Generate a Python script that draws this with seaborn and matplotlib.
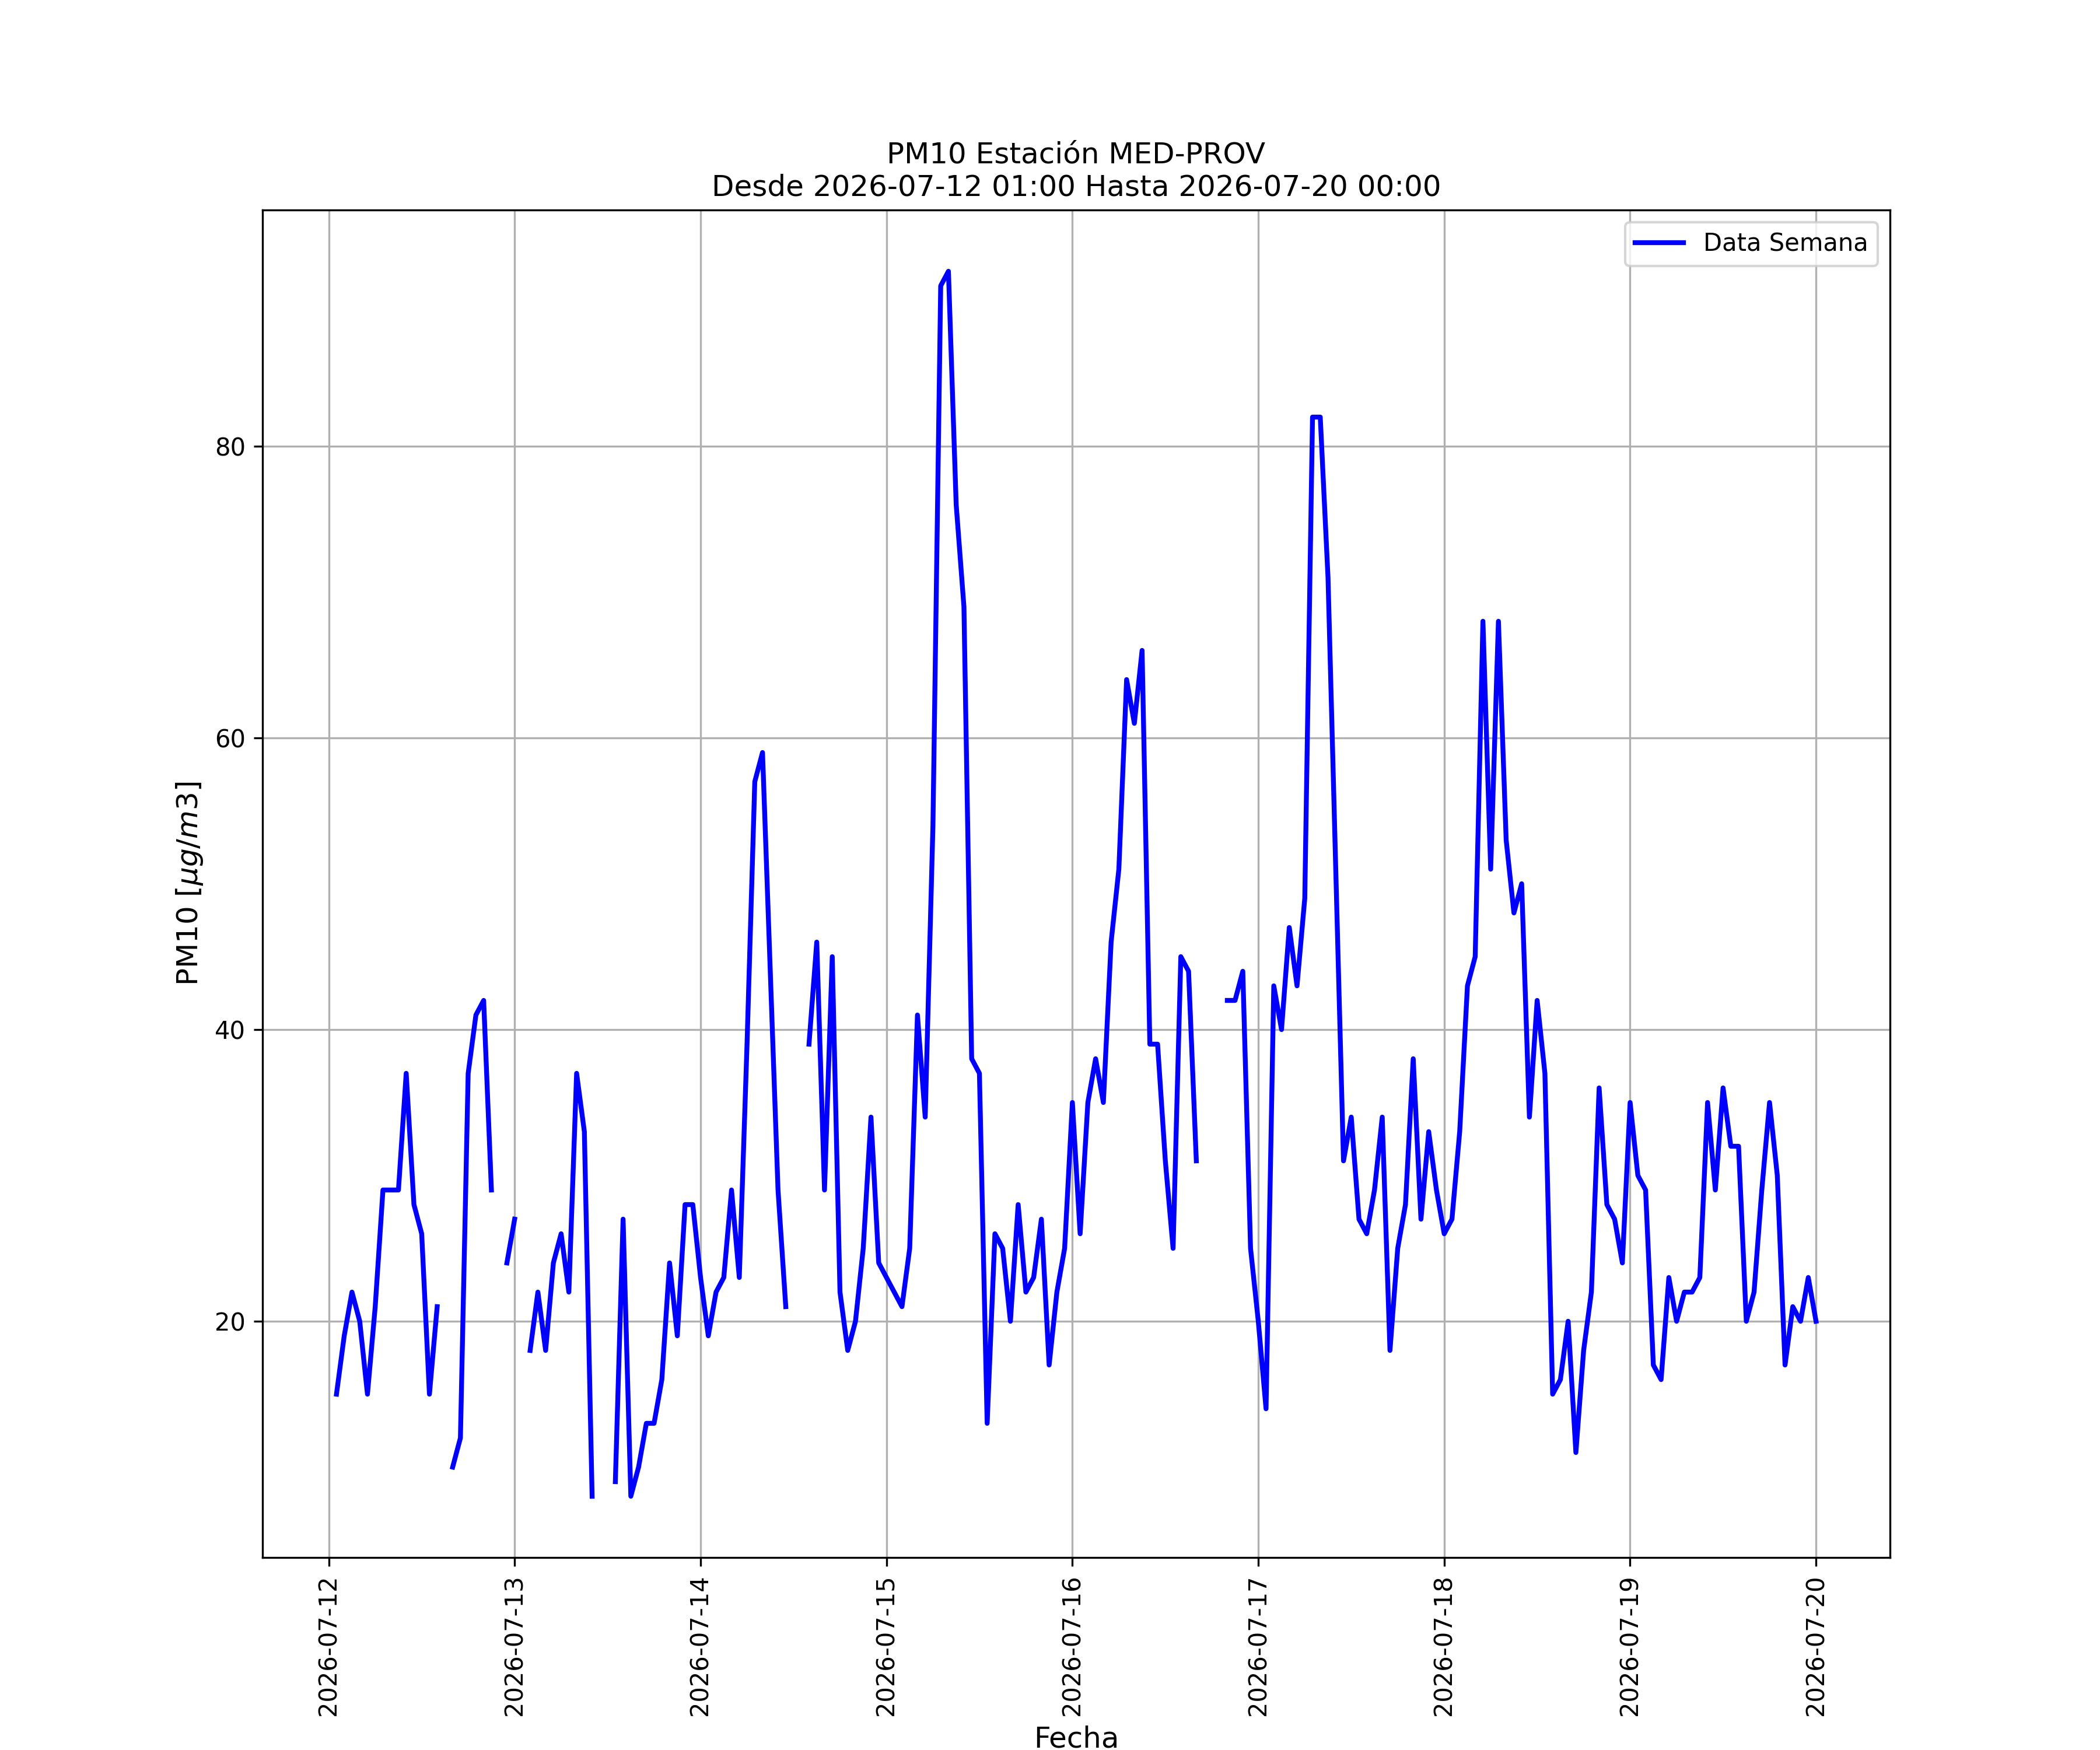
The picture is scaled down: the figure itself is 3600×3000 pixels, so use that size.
import numpy as np
import pandas as pd
import matplotlib
matplotlib.use("Agg")
import matplotlib.pyplot as plt
import matplotlib.dates as mdates
import seaborn as sns

# ---- data (hourly PM10, NaN = missing) ----
start = "2026-07-12 01:00"
end = "2026-07-20 00:00"
nan = np.nan
day1 = [15, 19, 22, 20, 15, 21, 29, 29, 29, 37, 28, 26, 15, 21, nan, 10, 12, 37,
        41, 42, 29, nan, 24, 27]
day2 = [nan, 18, 22, 18, 24, 26, 22, 37, 33, 8, nan, nan, 9, 27, 8, 10, 13, 13,
        16, 24, 19, 28, 28, 23]
day3 = [19, 22, 23, 29, 23, 39, 57, 59, 44, 29, 21, nan, nan, 39, 46, 29, 45, 22,
        18, 20, 25, 34, 24, 23]
day4 = [22, 21, 25, 41, 34, 54, 91, 92, 76, 69, 38, 37, 13, 26, 25, 20, 28, 22,
        23, 27, 17, 22, 25, 35]
day5 = [26, 35, 38, 35, 46, 51, 64, 61, 66, 39, 39, 31, 25, 45, 44, 31, nan, nan,
        nan, 42, 42, 44, 25, 20]
day6 = [14, 43, 40, 47, 43, 49, 82, 82, 71, 51, 31, 34, 27, 26, 29, 34, 18, 25,
        28, 38, 27, 33, 29, 26]
day7 = [27, 33, 43, 45, 68, 51, 68, 53, 48, 50, 34, 42, 37, 15, 16, 20, 11, 18,
        22, 36, 28, 27, 24, 35]
day8 = [30, 29, 17, 16, 23, 20, 22, 22, 23, 35, 29, 36, 32, 32, 20, 22, 29, 35,
        30, 17, 21, 20, 23, 20]
pm10 = day1 + day2 + day3 + day4 + day5 + day6 + day7 + day8

title_text = "PM10 Estación MED-PROV\nDesde 2026-07-12 01:00 Hasta 2026-07-20 00:00"
legend_label = "Data Semana"
x_label = "Fecha"
y_label = r"PM10 [$\mu g/m3$]"

fechas = pd.date_range(start, end, freq="h")
df = pd.DataFrame({"fecha": fechas, "pm10": pm10})
df["seg"] = df["pm10"].isna().cumsum()
df = df.dropna(subset=["pm10"])

# ---- figure ----
fig = plt.figure(figsize=(12, 10), dpi=300)
ax = fig.add_subplot(111)
fig.subplots_adjust(left=0.125, right=0.9, top=0.88, bottom=0.11)

sns.lineplot(data=df, x="fecha", y="pm10", units="seg", estimator=None,
             color="blue", linewidth=2, ax=ax, legend=False)

ax.grid(True, color="#b0b0b0", linewidth=0.8)
ax.xaxis.set_major_locator(mdates.DayLocator())
ax.xaxis.set_major_formatter(mdates.DateFormatter("%Y-%m-%d"))
plt.setp(ax.get_xticklabels(), rotation=90, fontsize=10)
plt.setp(ax.get_yticklabels(), fontsize=10)

ax.set_title(title_text, fontsize=12)
ax.set_xlabel(x_label, fontsize=12)
ax.set_ylabel(y_label, fontsize=12)

line = ax.lines[0]
line.set_label(legend_label)
ax.legend(handles=[line], labels=[legend_label], loc="upper right", fontsize=10)

fig.savefig("out.png", dpi=300)
